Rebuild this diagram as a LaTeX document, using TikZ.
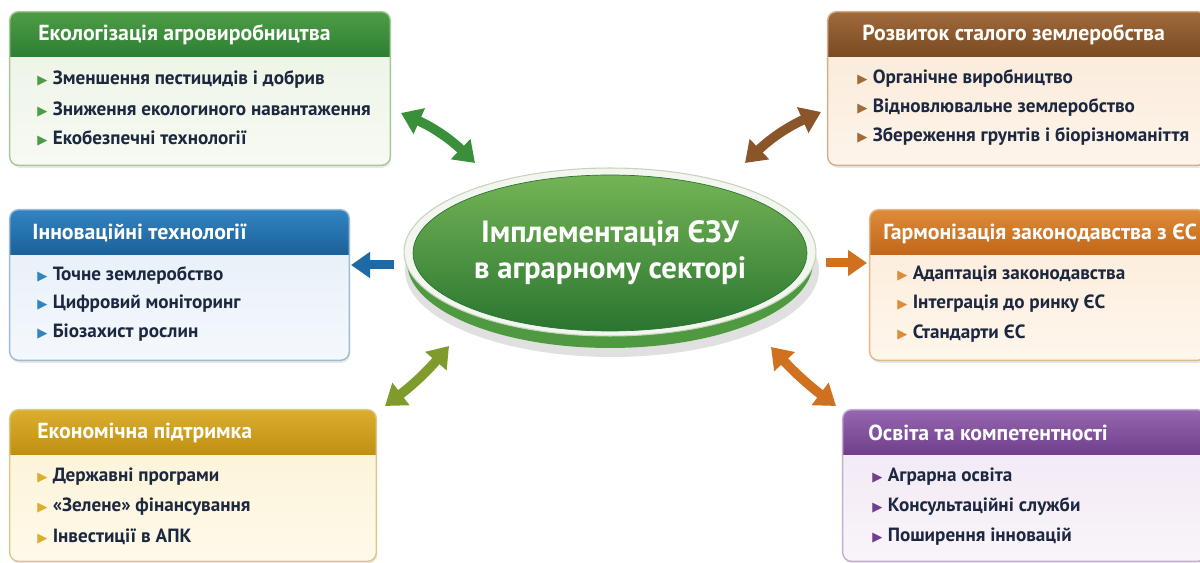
\documentclass[tikz,border=0pt]{standalone}
\usepackage{fontspec}
\setmainfont{PT Sans}
\newfontfamily\symfont{DejaVu Sans}
\usetikzlibrary{arrows.meta, positioning, shapes.geometric, fit, shadows, calc}

\definecolor{ink}{HTML}{1C2740}
% panel colours
\definecolor{ecoTop}{HTML}{4C9C46}\definecolor{ecoBot}{HTML}{2F7F34}
\definecolor{ecoBodyA}{HTML}{EAF3E2}\definecolor{ecoBodyB}{HTML}{F7FAF3}\definecolor{ecoLine}{HTML}{A9C79A}
\definecolor{soilTop}{HTML}{A06A3A}\definecolor{soilBot}{HTML}{7A4A22}
\definecolor{soilBodyA}{HTML}{FAE9D6}\definecolor{soilBodyB}{HTML}{FDF4EA}\definecolor{soilLine}{HTML}{D2B08E}
\definecolor{innoTop}{HTML}{3184C2}\definecolor{innoBot}{HTML}{1C6199}
\definecolor{innoBodyA}{HTML}{E4EEF7}\definecolor{innoBodyB}{HTML}{F4F8FC}\definecolor{innoLine}{HTML}{9DBBD6}
\definecolor{euTop}{HTML}{DF8C38}\definecolor{euBot}{HTML}{C0661A}
\definecolor{euBodyA}{HTML}{FCEBD8}\definecolor{euBodyB}{HTML}{FEF6EC}\definecolor{euLine}{HTML}{E2B88A}
\definecolor{finTop}{HTML}{DBAE2E}\definecolor{finBot}{HTML}{C08F12}
\definecolor{finBodyA}{HTML}{FCF2D2}\definecolor{finBodyB}{HTML}{FEF9EA}\definecolor{finLine}{HTML}{DCC88A}
\definecolor{eduTop}{HTML}{9766B0}\definecolor{eduBot}{HTML}{6F3F8C}
\definecolor{eduBodyA}{HTML}{F0E6F3}\definecolor{eduBodyB}{HTML}{F9F4FA}\definecolor{eduLine}{HTML}{C6AED2}
% hub and arrows
\definecolor{hubTop}{HTML}{74B456}\definecolor{hubMid}{HTML}{3E923C}\definecolor{hubBot}{HTML}{2A7530}
\definecolor{hubBase}{HTML}{4F9A40}\definecolor{hubRim}{HTML}{F3F6EF}\definecolor{hubRimLine}{HTML}{C5D3BC}
\definecolor{arrGreen}{HTML}{3A8F3A}\definecolor{arrBrown}{HTML}{8A5529}
\definecolor{arrBlue}{HTML}{1F6AA5}\definecolor{arrOrange}{HTML}{D0711F}
\definecolor{arrOlive}{HTML}{7E9B2C}

\newcommand{\itembul}[1]{{\symfont\fontsize{7.5}{8}\selectfont\textcolor{#1}{▶}}\hspace{3pt}}

\tikzset{
    panel/.style={
        rounded corners=5pt,
        inner sep=0pt,
        drop shadow={opacity=0.18, shadow xshift=0.6pt, shadow yshift=-1.6pt}
    },
    panelline/.style={draw=#1, line width=0.8pt, rounded corners=5pt},
    title/.style={anchor=west, inner sep=0pt, text=white, font=\fontsize{12.4}{14}\selectfont\bfseries},
    item/.style={anchor=west, inner sep=0pt, text=ink, font=\fontsize{10.9}{13}\selectfont\bfseries},
    hub/.style={
        ellipse,
        minimum width=7.88cm,
        minimum height=3.12cm,
        inner sep=0pt,
        draw=hubBot,
        top color=hubTop,
        middle color=hubMid,
        bottom color=hubBot,
        align=center,
        text=white,
        font=\fontsize{17.5}{20.5}\selectfont\bfseries
    },
    dbl/.style={{Triangle[width=0.54cm, length=0.4cm]}-{Triangle[width=0.54cm, length=0.4cm]}, line width=0.19cm, draw=#1},
    single/.style={-{Triangle[width=0.5cm, length=0.38cm]}, line width=0.18cm, draw=#1},
    every node/.style={font=\small}
}

\begin{document}
\begin{tikzpicture}[x=0.02cm, y=-0.02cm]

\useasboundingbox (0,0) rectangle (1200,563);
\fill[white] (0,0) rectangle (1200,563);

% centre ellipse
\fill[black, opacity=0.12] (612,270) ellipse (4.14cm and 1.74cm);
\fill[hubBase] (610,262) ellipse (4.06cm and 1.72cm);
\fill[hubRim, draw=hubRimLine, line width=0.6pt] (610,252) ellipse (4.12cm and 1.68cm);
\node[hub] (hub) at (610,253) {Імплементація ЄЗУ\\в аграрному секторі};

% ecology panel
\node[panel, fit={(10,12) (390,165)}, top color=ecoBodyA, bottom color=ecoBodyB] (eco) {};
\begin{scope}
  \clip[rounded corners=5pt] (eco.south west) rectangle (eco.north east);
  \shade[top color=ecoTop, bottom color=ecoBot] (eco.north west) rectangle ([yshift=-0.9cm]eco.north east);
\end{scope}
\draw[panelline=ecoLine] (eco.south west) rectangle (eco.north east);
\node[title] (ecoT) at (38,35) {Екологізація агровиробництва};
\node[item] (eco1) at (37,79) {\itembul{ecoTop}Зменшення пестицидів і добрив};
\node[item] (eco2) at (37,109) {\itembul{ecoTop}Зниження екологиного навантаження};
\node[item] (eco3) at (37,138) {\itembul{ecoTop}Екобезпечні технології};

% sustainable farming panel
\node[panel, fit={(828,12) (1206,165)}, top color=soilBodyA, bottom color=soilBodyB] (soil) {};
\begin{scope}
  \clip[rounded corners=5pt] (soil.south west) rectangle (soil.north east);
  \shade[top color=soilTop, bottom color=soilBot] (soil.north west) rectangle ([yshift=-0.9cm]soil.north east);
\end{scope}
\draw[panelline=soilLine] (soil.south west) rectangle (soil.north east);
\node[title] (soilT) at (862,35) {Розвиток сталого землеробства};
\node[item] (soil1) at (857,78) {\itembul{soilTop}Органічне виробництво};
\node[item] (soil2) at (857,107) {\itembul{soilTop}Відновлювальне землеробство};
\node[item] (soil3) at (857,137) {\itembul{soilTop}Збереження грунтів і біорізноманіття};

% innovation panel
\node[panel, fit={(10,210) (349,360)}, top color=innoBodyA, bottom color=innoBodyB] (inno) {};
\begin{scope}
  \clip[rounded corners=5pt] (inno.south west) rectangle (inno.north east);
  \shade[top color=innoTop, bottom color=innoBot] (inno.north west) rectangle ([yshift=-0.9cm]inno.north east);
\end{scope}
\draw[panelline=innoLine] (inno.south west) rectangle (inno.north east);
\node[title] (innoT) at (32,233) {Інноваційні технології};
\node[item] (inno1) at (37,275) {\itembul{innoTop}Точне землеробство};
\node[item] (inno2) at (37,304) {\itembul{innoTop}Цифровий моніторинг};
\node[item] (inno3) at (37,333) {\itembul{innoTop}Біозахист рослин};

% EU law panel
\node[panel, fit={(870,210) (1206,360)}, top color=euBodyA, bottom color=euBodyB] (eu) {};
\begin{scope}
  \clip[rounded corners=5pt] (eu.south west) rectangle (eu.north east);
  \shade[top color=euTop, bottom color=euBot] (eu.north west) rectangle ([yshift=-0.9cm]eu.north east);
\end{scope}
\draw[panelline=euLine] (eu.south west) rectangle (eu.north east);
\node[title] (euT) at (883,234) {Гармонізація законодавства з ЄС};
\node[item] (eu1) at (897,274) {\itembul{euTop}Адаптація законодавства};
\node[item] (eu2) at (897,304) {\itembul{euTop}Інтеграція до ринку ЄС};
\node[item] (eu3) at (897,334) {\itembul{euTop}Стандарти ЄС};

% economic support panel
\node[panel, fit={(10,410) (376,561)}, top color=finBodyA, bottom color=finBodyB] (fin) {};
\begin{scope}
  \clip[rounded corners=5pt] (fin.south west) rectangle (fin.north east);
  \shade[top color=finTop, bottom color=finBot] (fin.north west) rectangle ([yshift=-0.9cm]fin.north east);
\end{scope}
\draw[panelline=finLine] (fin.south west) rectangle (fin.north east);
\node[title] (finT) at (37,433) {Економічна підтримка};
\node[item] (fin1) at (37,477) {\itembul{finTop}Державні програми};
\node[item] (fin2) at (37,507) {\itembul{finTop}«Зелене» фінансування};
\node[item] (fin3) at (37,537) {\itembul{finTop}Інвестиції в АПК};

% education panel
\node[panel, fit={(843,410) (1206,561)}, top color=eduBodyA, bottom color=eduBodyB] (edu) {};
\begin{scope}
  \clip[rounded corners=5pt] (edu.south west) rectangle (edu.north east);
  \shade[top color=eduTop, bottom color=eduBot] (edu.north west) rectangle ([yshift=-0.9cm]edu.north east);
\end{scope}
\draw[panelline=eduLine] (edu.south west) rectangle (edu.north east);
\node[title] (eduT) at (868,433) {Освіта та компетентності};
\node[item] (edu1) at (872,477) {\itembul{eduBot}Аграрна освіта};
\node[item] (edu2) at (872,507) {\itembul{eduBot}Консультаційні служби};
\node[item] (edu3) at (872,537) {\itembul{eduBot}Поширення інновацій};

% arrows
\coordinate (gA) at (401,113);
\coordinate (gB) at (475,163);
\draw[dbl=arrGreen] (gA) to[bend left=10] (gB);

\coordinate (brA) at (745,163);
\coordinate (brB) at (821,112);
\draw[dbl=arrBrown] (brA) to[bend left=10] (brB);

\coordinate (blA) at (394,265);
\coordinate (blB) at (351,265);
\draw[single=arrBlue] (blA) -- (blB);

\coordinate (orA) at (826,263);
\coordinate (orB) at (867,263);
\draw[single=arrOrange] (orA) -- (orB);

\coordinate (olA) at (385,406);
\coordinate (olB) at (449,346);
\draw[dbl=arrOlive] (olA) to[bend right=6] (olB);

\coordinate (oqA) at (771,347);
\coordinate (oqB) at (836,406);
\draw[dbl=arrOrange] (oqA) to[bend right=5] (oqB);

\end{tikzpicture}
\end{document}
